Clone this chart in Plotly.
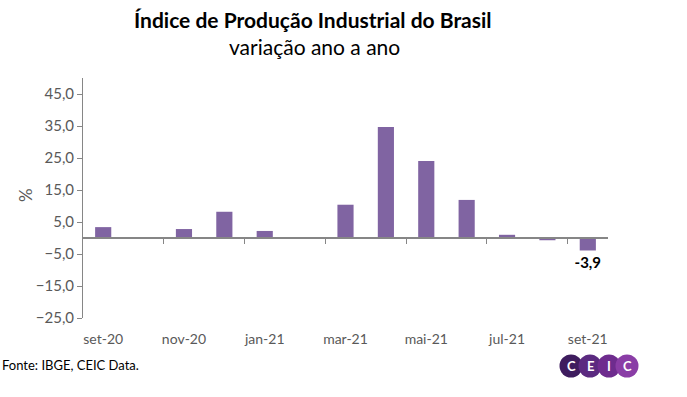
import plotly.graph_objects as go

months = ["set-20", "out-20", "nov-20", "dez-20", "jan-21", "fev-21", "mar-21",
          "abr-21", "mai-21", "jun-21", "jul-21", "ago-21", "set-21"]
yoy = [3.4, 0.3, 2.8, 8.2, 2.2, 0.3, 10.4, 34.7, 24.1, 11.9, 1.0, -0.7, -3.9]
tick_labels = months[::2]
y_ticks = [-25, -15, -5, 5, 15, 25, 35, 45]

W, H = 687, 397
L, R, T, B = 83, 79, 78, 79
pw, ph = W - L - R, H - T - B

def px(x):
    return (x - L) / pw

def py(y):
    return (H - B - y) / ph

GRAY = "#868686"
FONT = "Lato"

text = ["" for _ in yoy]
text[-1] = f"{yoy[-1]:.1f}".replace(".", ",")

fig = go.Figure()
fig.add_trace(go.Bar(
    x=months, y=yoy, marker=dict(color="#8064A2", line=dict(width=0)),
    width=0.4, text=text, textposition="outside", constraintext="none",
    textfont=dict(family=FONT, size=15, color="black", weight="bold"),
    cliponaxis=False, hoverinfo="skip",
))
# invisible trace to anchor the zero-line axis
fig.add_trace(go.Scatter(x=[0], y=[0], xaxis="x2", mode="markers",
                         marker=dict(opacity=0), hoverinfo="skip", showlegend=False))

fig.update_layout(
    width=W, height=H, margin=dict(l=L, r=R, t=T, b=B),
    paper_bgcolor="white", plot_bgcolor="white", showlegend=False,
    separators=",.", bargap=0.6,
    font=dict(family=FONT, size=14, color="#595959"),
    xaxis=dict(type="category", range=[-0.5, 12.5], tickmode="array",
               tickvals=tick_labels, ticktext=tick_labels, showline=False,
               showgrid=False, zeroline=False, ticks="outside", ticklen=8,
               tickcolor="rgba(0,0,0,0)", tickfont=dict(size=14, color="#595959")),
    xaxis2=dict(overlaying="x", anchor="free", position=py(238), range=[-0.5, 12.5],
                tickmode="array", tickvals=[1.5, 3.5, 5.5, 7.5, 9.5, 11.5],
                showticklabels=False, ticks="outside", ticklen=5, tickcolor=GRAY,
                tickwidth=1, showline=True, linecolor=GRAY, linewidth=1.5,
                showgrid=False, zeroline=False),
    yaxis=dict(range=[-25, 50], tickmode="array", tickvals=y_ticks,
               tickformat=".1f", showline=True, linecolor=GRAY, linewidth=1,
               ticks="outside", ticklen=5, tickcolor=GRAY, showgrid=False,
               zeroline=False, tickfont=dict(size=15, color="#595959")),
)

fig.add_annotation(text="<b>Índice de Produção Industrial do Brasil</b>", xref="paper", yref="paper",
                   x=px(313), y=py(20), showarrow=False, xanchor="center", yanchor="middle",
                   font=dict(family=FONT, size=21, color="black"))
fig.add_annotation(text="variação ano a ano", xref="paper", yref="paper",
                   x=px(314), y=py(46), showarrow=False, xanchor="center", yanchor="middle",
                   font=dict(family=FONT, size=21, color="black"))
fig.add_annotation(text="%", xref="paper", yref="paper", x=px(25), y=py(195),
                   showarrow=False, textangle=-90, xanchor="center", yanchor="middle",
                   font=dict(family=FONT, size=17, color="#595959"))
fig.add_annotation(text="Fonte: IBGE, CEIC Data.", xref="paper", yref="paper",
                   x=px(0), y=py(365), showarrow=False, xanchor="left", yanchor="middle",
                   font=dict(family=FONT, size=13, color="black"))

# CEIC logo
logo_letters = ["C", "E", "I", "C"]
logo_colors = ["#3E1C5E", "#5B2A80", "#6E2C8E", "#8A3DA6"]
centers = [571, 590, 609, 627]
r = 11.5
for cx, col in zip(centers, logo_colors):
    fig.add_shape(type="circle", xref="paper", yref="paper",
                  x0=px(cx - r), x1=px(cx + r), y0=py(366 + r), y1=py(366 - r),
                  fillcolor=col, line=dict(width=0), layer="above")
for cx, letter in zip(centers, logo_letters):
    fig.add_annotation(text=f"<b>{letter}</b>", xref="paper", yref="paper",
                       x=px(cx), y=py(366), showarrow=False, xanchor="center", yanchor="middle",
                       font=dict(family=FONT, size=13, color="white"))

fig.write_html("out.html", config={"displayModeBar": False},
               post_script="document.body.style.margin='0';")
